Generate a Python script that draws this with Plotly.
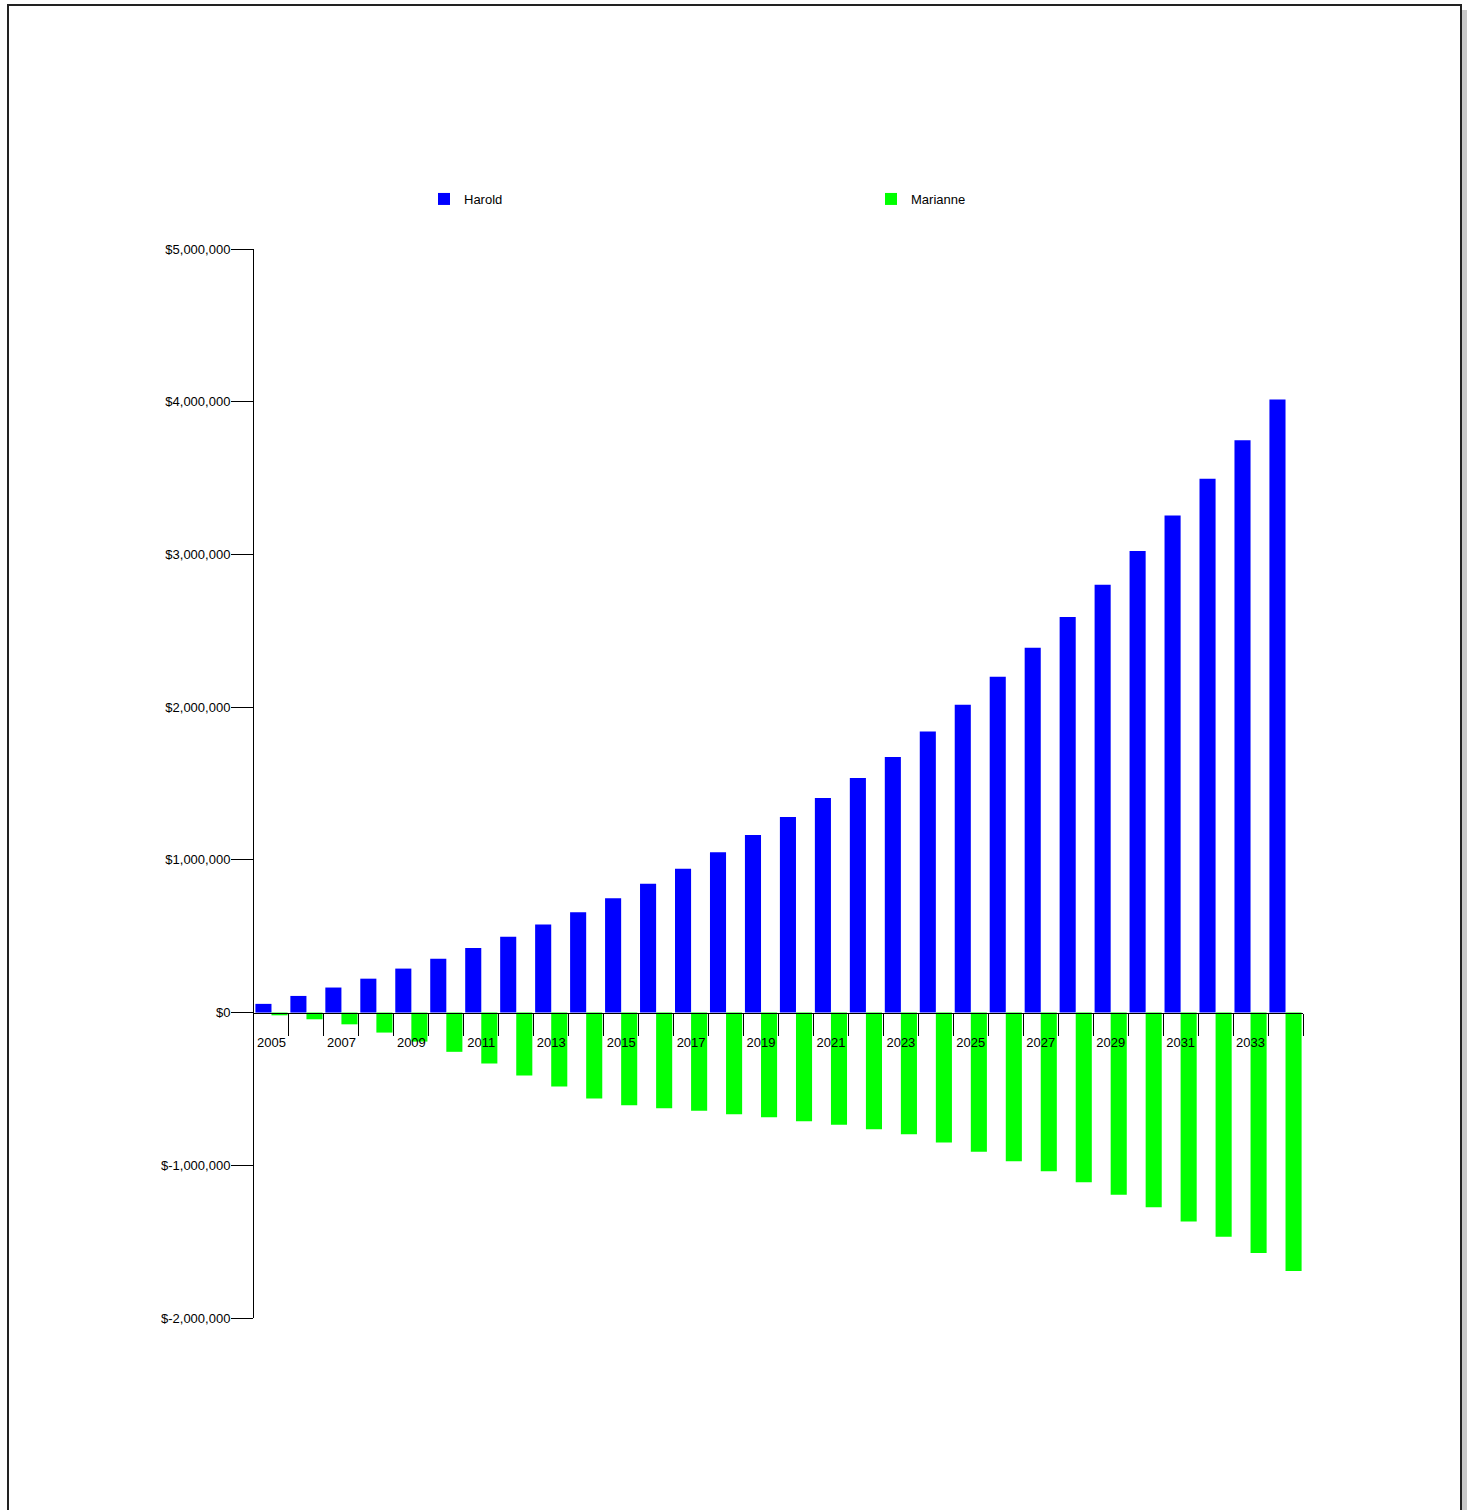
import plotly.graph_objects as go

years = list(range(2005, 2035))
harold = [57000, 109000, 164000, 222000, 288000, 353000, 423000, 497000, 576000, 657000,
          748000, 844000, 942000, 1049000, 1163000, 1281000, 1405000, 1536000, 1673000, 1841000,
          2016000, 2199000, 2389000, 2590000, 2801000, 3022000, 3255000, 3495000, 3748000, 4014000]
marianne = [-18000, -44000, -77000, -131000, -190000, -257000, -334000, -412000, -484000, -563000,
            -607000, -626000, -643000, -666000, -685000, -711000, -735000, -764000, -796000, -851000,
            -912000, -973000, -1039000, -1111000, -1193000, -1274000, -1368000, -1468000, -1575000, -1693000]
series_names = ["Harold", "Marianne"]
series_colors = ["#0000FF", "#00FF00"]

y_tickvals = [5000000, 4000000, 3000000, 2000000, 1000000, 0, -1000000, -2000000]
y_ticktext = ["$5,000,000", "$4,000,000", "$3,000,000", "$2,000,000", "$1,000,000",
              "$0", "$-1,000,000", "$-2,000,000"]
x_label_years = years[::2]
x_boundaries = [y + 0.5 for y in years]

W, H = 1468, 1510
L, R, T, B = 254, 1303, 249, 1318

fig = go.Figure()
for name, vals, col in zip(series_names, [harold, marianne], series_colors):
    fig.add_trace(go.Bar(x=years, y=vals, name=name, marker=dict(color=col, line=dict(width=0))))

def px_x(p):
    return (p - L) / (R - L)

def px_y(p):
    return (B - p) / (B - T)

font = dict(family="Liberation Sans, Arial, Helvetica, sans-serif", size=13, color="#000000")

fig.update_layout(
    width=W, height=H,
    margin=dict(l=L, r=W - R, t=T, b=H - B, pad=0),
    paper_bgcolor="white", plot_bgcolor="white",
    font=font,
    barmode="group", bargap=0.08, bargroupgap=0,
    showlegend=True,
    legend=dict(orientation="h", x=px_x(424), xanchor="left", y=px_y(199), yanchor="middle",
                entrywidth=402, entrywidthmode="pixels", font=font, bgcolor="rgba(0,0,0,0)",
                traceorder="normal"),
    xaxis=dict(range=[2004.5, 2034.5], anchor="free", position=2 / 7,
               showline=True, linecolor="#000000", linewidth=1,
               showgrid=False, zeroline=False,
               tickmode="array", tickvals=x_label_years, ticktext=[str(v) for v in x_label_years],
               ticks="outside", ticklen=18, tickcolor="rgba(0,0,0,0)",
               minor=dict(tickmode="array", tickvals=x_boundaries, ticks="outside",
                          ticklen=22, tickwidth=1, tickcolor="#000000", showgrid=False),
               tickfont=font),
    yaxis=dict(range=[-2000000, 5000000], showline=True, linecolor="#000000", linewidth=1,
               showgrid=False, zeroline=False,
               tickmode="array", tickvals=y_tickvals, ticktext=y_ticktext,
               ticks="outside", ticklen=22, tickcolor="#000000", tickwidth=1,
               ticklabelstandoff=-2,
               tickfont=font),
    shapes=[
        dict(type="rect", xref="paper", yref="paper",
             x0=px_x(1462), x1=px_x(1467), y0=px_y(10), y1=px_y(1530),
             fillcolor="#c8c8c8", line=dict(width=0), layer="below"),
        dict(type="rect", xref="paper", yref="paper",
             x0=px_x(8), x1=px_x(1461), y0=px_y(5), y1=px_y(1530),
             fillcolor="rgba(0,0,0,0)", line=dict(color="#222222", width=2), layer="below"),
    ],
)

fig.write_html("out.html", config={"displayModeBar": False},
               post_script="document.body.style.margin='0';document.body.style.overflow='hidden';")
